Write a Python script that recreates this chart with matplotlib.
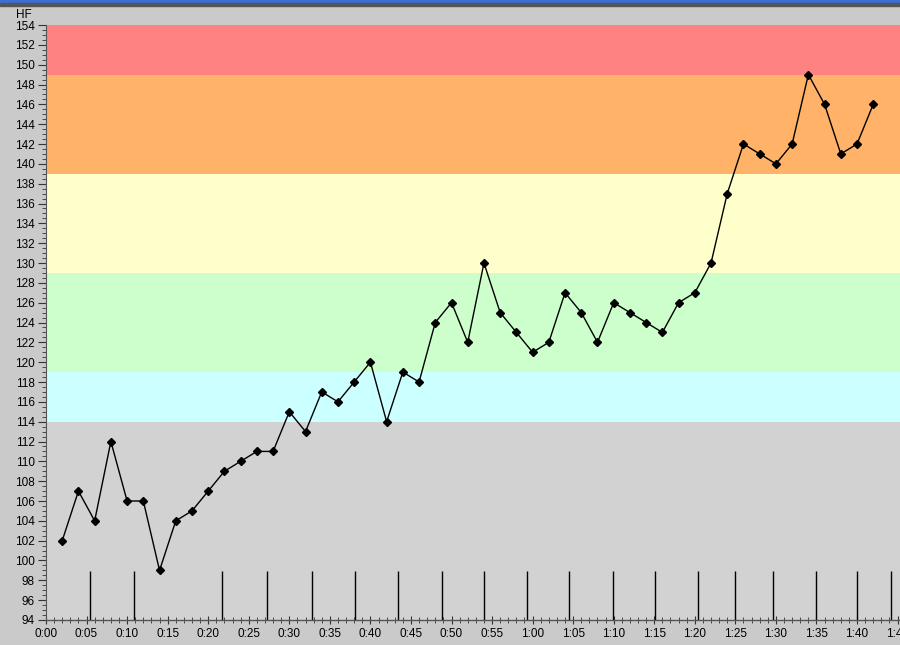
"""Heart rate (HF) over time with training zones."""
import matplotlib
matplotlib.use('Agg')
import matplotlib.pyplot as plt
from matplotlib.patches import Rectangle
from matplotlib.ticker import MultipleLocator, FuncFormatter

plt.rcParams['font.family'] = ['Liberation Sans', 'DejaVu Sans']

# ---- data ----
minutes = [2, 4, 6, 8, 10, 12, 14, 16, 18, 20, 22, 24, 26, 28, 30, 32, 34, 36,
           38, 40, 42, 44, 46, 48, 50, 52, 54, 56, 58, 60, 62, 64, 66, 68, 70,
           72, 74, 76, 78, 80, 82, 84, 86, 88, 90, 92, 94, 96, 98, 100, 102]
hf = [102, 107, 104, 112, 106, 106, 99, 104, 105, 107, 109, 110, 111, 111,
      115, 113, 117, 116, 118, 120, 114, 119, 118, 124, 126, 122, 130, 125,
      123, 121, 122, 127, 125, 122, 126, 125, 124, 123, 126, 127, 130, 137,
      142, 141, 140, 142, 149, 146, 141, 142, 146]
lap_marks = [5.4, 10.9, 21.7, 27.2, 32.8, 38.1, 43.4, 48.8, 54.0, 59.3, 64.5,
             69.9, 75.1, 80.4, 84.9, 89.7, 95.0, 100.0, 104.2]
zone_edges = [94, 114, 119, 129, 139, 149, 154]
zone_colors = ['#d2d2d2', '#ccffff', '#ccffcc', '#ffffcc', '#ffb268', '#ff8282']

fig = plt.figure(figsize=(9, 6.45), dpi=100)
fig.patch.set_facecolor('#cacaca')
ax = fig.add_axes([46/900, 25/645, 854/900, 595/645])

# zone bands
for lo, hi, c in zip(zone_edges[:-1], zone_edges[1:], zone_colors):
    ax.axhspan(lo, hi, color=c, zorder=0, lw=0)

# lap markers
ax.vlines(lap_marks, 94, 98.9, colors='black', lw=1.0, zorder=2)

ax.plot(minutes, hf, color='black', lw=1.0, marker='D', markersize=4,
        zorder=3)

ax.set_xlim(0, 105.3)
ax.set_ylim(94, 154)
ax.yaxis.set_major_locator(MultipleLocator(2))
ax.yaxis.set_minor_locator(MultipleLocator(0.5))
ax.xaxis.set_major_locator(MultipleLocator(5))
ax.xaxis.set_minor_locator(MultipleLocator(1))
ax.xaxis.set_major_formatter(FuncFormatter(lambda v, p: '%d:%02d' % (int(round(v)) // 60, int(round(v)) % 60)))

for s in ['top', 'right']:
    ax.spines[s].set_visible(False)
ax.spines['left'].set_color('#555555')
ax.spines['bottom'].set_color('#555555')
ax.spines['bottom'].set_linewidth(1.0)
ax.spines['left'].set_linewidth(0.8)
ax.tick_params(axis='y', which='major', length=6, direction='out', labelsize=8.5,
               pad=2, colors='#333333', labelcolor='black')
ax.tick_params(axis='y', which='minor', length=3, direction='out', colors='#333333')
ax.tick_params(axis='x', which='major', length=6, direction='inout', labelsize=8.5,
               pad=3, colors='#333333', labelcolor='black')
ax.tick_params(axis='x', which='minor', length=5, direction='inout', colors='#333333')

fig.text(16/900, 1 - 15/645, 'HF', fontsize=8.5, ha='left', va='center')

# window chrome at top
fig.patches.append(Rectangle((0, 1 - 3/645), 1, 3/645, transform=fig.transFigure,
                             color='#3b6fd6', zorder=5))
fig.patches.append(Rectangle((0, 1 - 6/645), 1, 3/645, transform=fig.transFigure,
                             color='#555555', zorder=5))

fig.savefig('out.png', dpi=100, facecolor=fig.get_facecolor())
